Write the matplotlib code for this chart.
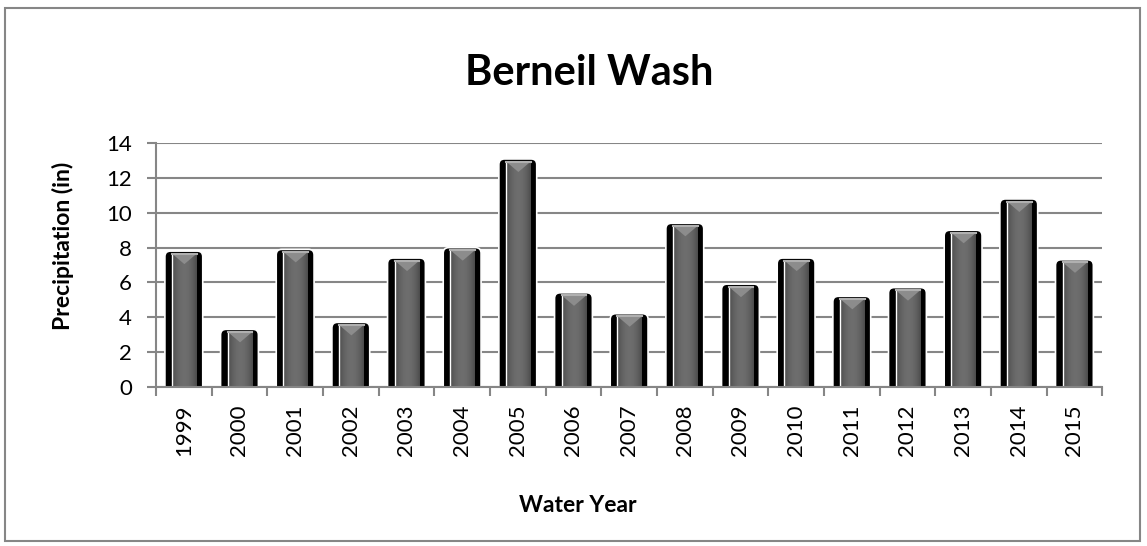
import numpy as np
import matplotlib.pyplot as plt
from matplotlib.patches import Rectangle, FancyBboxPatch, Polygon

plt.rcParams['font.family'] = ['Lato', 'DejaVu Sans']

years = ["1999", "2000", "2001", "2002", "2003", "2004", "2005", "2006", "2007",
         "2008", "2009", "2010", "2011", "2012", "2013", "2014", "2015"]
precip = [7.8, 3.3, 7.9, 3.7, 7.4, 8.0, 13.1, 5.4, 4.2,
          9.4, 5.9, 7.4, 5.2, 5.7, 9.0, 10.8, 7.3]
y_ticks = [0, 2, 4, 6, 8, 10, 12, 14]

fig = plt.figure(figsize=(11.47, 5.46), dpi=100)
ax = fig.add_axes([0.136, 0.2918, 0.825, 0.4457])
ax.set_xlim(-0.5, len(years) - 0.5)
ax.set_ylim(0, 14)

x = np.arange(len(years))
outer_w = 0.68
inner_off = 0.13
inner_w = 0.44

# pixel aspect so the rounded tops look round
ax_w_px = 0.825 * 1147
ax_h_px = 0.4457 * 546
aspect = (14 / ax_h_px) / (len(years) / ax_w_px)

bars = ax.bar(x, precip, width=outer_w, color="black", zorder=2)
grad = np.linspace(0, 1, 64)
shade = 0.43 - 0.13 * (2 * grad - 1) ** 2
img = np.tile(shade, (2, 1))

for b in bars:
    bx, bw, bh = b.get_x(), b.get_width(), b.get_height()
    b.set_visible(False)
    # black bar with rounded top (bottom goes below the axis and is clipped)
    body = FancyBboxPatch((bx, -1), bw, bh + 1,
                          boxstyle="round,pad=0,rounding_size=0.1",
                          mutation_aspect=aspect, facecolor="black",
                          edgecolor="white", lw=1.2, zorder=2)
    ax.add_patch(body)
    left = bx + inner_off
    top = bh - 0.15
    im = ax.imshow(img, cmap="gray", vmin=0, vmax=1, aspect="auto",
                   extent=(left, left + inner_w, 0, top), zorder=3)
    im.set_clip_path(Rectangle((left, 0), inner_w, top, transform=ax.transData))
    ax.plot([left, left], [0, top], color="white", lw=1, zorder=4)
    # bevel triangle at the top
    tri = Polygon([(left, top), (left + inner_w, top),
                   (left + inner_w / 2, top - 0.6)],
                  closed=True, facecolor="#8c8c8c", edgecolor="none", zorder=4)
    ax.add_patch(tri)
    ax.plot([left, left + inner_w], [top, top], color="#b0b0b0", lw=1.5, zorder=5)

ax.set_yticks(y_ticks)
ax.tick_params(axis="y", labelsize=16, length=6.2, width=1.5, color="#868686", pad=11)
ax.set_xticks(x)
ax.set_xticklabels(years, rotation=90, fontsize=16)
ax.tick_params(axis="x", length=0, pad=13)
ax.set_xticks(np.arange(-0.5, len(years), 1), minor=True)
ax.tick_params(axis="x", which="minor", length=6.5, width=1.5, color="#868686")

ax.grid(axis="y", color="#868686", lw=1.5, zorder=1)
ax.set_axisbelow(True)
for s in ["top", "right"]:
    ax.spines[s].set_visible(False)
for s in ["left", "bottom"]:
    ax.spines[s].set_color("#868686")
    ax.spines[s].set_linewidth(1.5)
    ax.spines[s].set_zorder(6)

fig.text(0.514, 1 - 85 / 546, "Berneil Wash", fontsize=30, fontweight="bold",
         ha="center", va="baseline")
fig.text(0.055, 0.549, "Precipitation (in)", fontsize=16.5, fontweight="bold",
         rotation=90, ha="center", va="center")
fig.text(578 / 1147, 1 - 512 / 546, "Water Year", fontsize=16.5, fontweight="bold",
         ha="center", va="baseline")

# outer chart border
fig.add_artist(Rectangle((0.004, 0.01), 0.99, 0.975, transform=fig.transFigure,
                         fill=False, edgecolor="#868686", lw=1.5))

fig.savefig("out.png", dpi=100)
